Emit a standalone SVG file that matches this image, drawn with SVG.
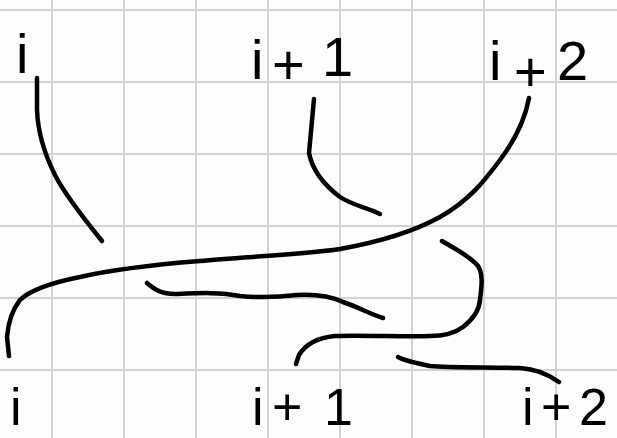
<svg xmlns="http://www.w3.org/2000/svg" width="617" height="438" viewBox="0 0 617 438">
<style>
.grid line{stroke:#d2d2d2;stroke-width:2}
.strand{fill:none;stroke:#000;stroke-width:4.5;stroke-linecap:round;stroke-linejoin:round}
.lbl{font-family:"Liberation Sans",Arial,sans-serif;font-size:56px;fill:#000}
.lbl.b{font-size:52px}
</style>
<rect width="617" height="438" fill="#fdfdfd"/>
<g class="grid">
<line x1="52" y1="0" x2="52" y2="438"/>
<line x1="124" y1="0" x2="124" y2="438"/>
<line x1="196" y1="0" x2="196" y2="438"/>
<line x1="268" y1="0" x2="268" y2="438"/>
<line x1="340" y1="0" x2="340" y2="438"/>
<line x1="412" y1="0" x2="412" y2="438"/>
<line x1="484" y1="0" x2="484" y2="438"/>
<line x1="556" y1="0" x2="556" y2="438"/>
<line x1="0" y1="10" x2="617" y2="10"/>
<line x1="0" y1="82" x2="617" y2="82"/>
<line x1="0" y1="154" x2="617" y2="154"/>
<line x1="0" y1="226" x2="617" y2="226"/>
<line x1="0" y1="298" x2="617" y2="298"/>
<line x1="0" y1="370" x2="617" y2="370"/>
</g>
<g id="top-i"><text class="lbl"><tspan x="16" y="73">i</tspan></text></g>
<g id="top-i1"><text class="lbl"><tspan x="251" y="79">i</tspan><tspan x="272" y="84">+</tspan><tspan x="322" y="76">1</tspan></text></g>
<g id="top-i2"><text class="lbl"><tspan x="489" y="80">i</tspan><tspan x="514" y="91">+</tspan><tspan x="557" y="80">2</tspan></text></g>
<g id="bottom-i"><text class="lbl b"><tspan x="10" y="425">i</tspan></text></g>
<g id="bottom-i1"><text class="lbl b"><tspan x="252" y="425">i</tspan><tspan x="272" y="425">+</tspan><tspan x="324" y="425">1</tspan></text></g>
<g id="bottom-i2"><text class="lbl b"><tspan x="522" y="425">i</tspan><tspan x="541" y="425">+</tspan><tspan x="579" y="425">2</tspan></text></g>
<g id="connectors">
<path class="strand" d="M37,78 L37,110 C38,135 45,155 55,175 C65,195 85,220 102,241"/>
<path class="strand" d="M314,99 L309,153 C312,168 320,182 340,197 C352,205 368,208 380,214"/>
<path class="strand" d="M529,98 C525,120 515,140 500,160 C485,180 470,200 440,217 C420,228 390,240 340,249 C300,255 240,257 200,261 C150,265 110,270 80,277 C50,283 30,290 20,300 C12,310 8,325 7,337 L9,356"/>
<path class="strand" d="M147,283 C155,290 162,294 175,294 C200,293 220,292 240,296 C260,298 280,297 297,295 C315,294 330,296 343,302 C358,307 370,314 383,318"/>
<path class="strand" d="M442,241 C455,249 470,256 478,266 C484,275 481,290 480,300 C479,312 472,320 463,327 C455,333 445,336 430,336 C410,337 360,335 335,336 C315,338 305,345 299,355 L296,364"/>
<path class="strand" d="M398,357 C405,361 415,363 430,366 C450,368 490,367 520,368 C535,369 548,374 559,382"/>
</g>
</svg>
